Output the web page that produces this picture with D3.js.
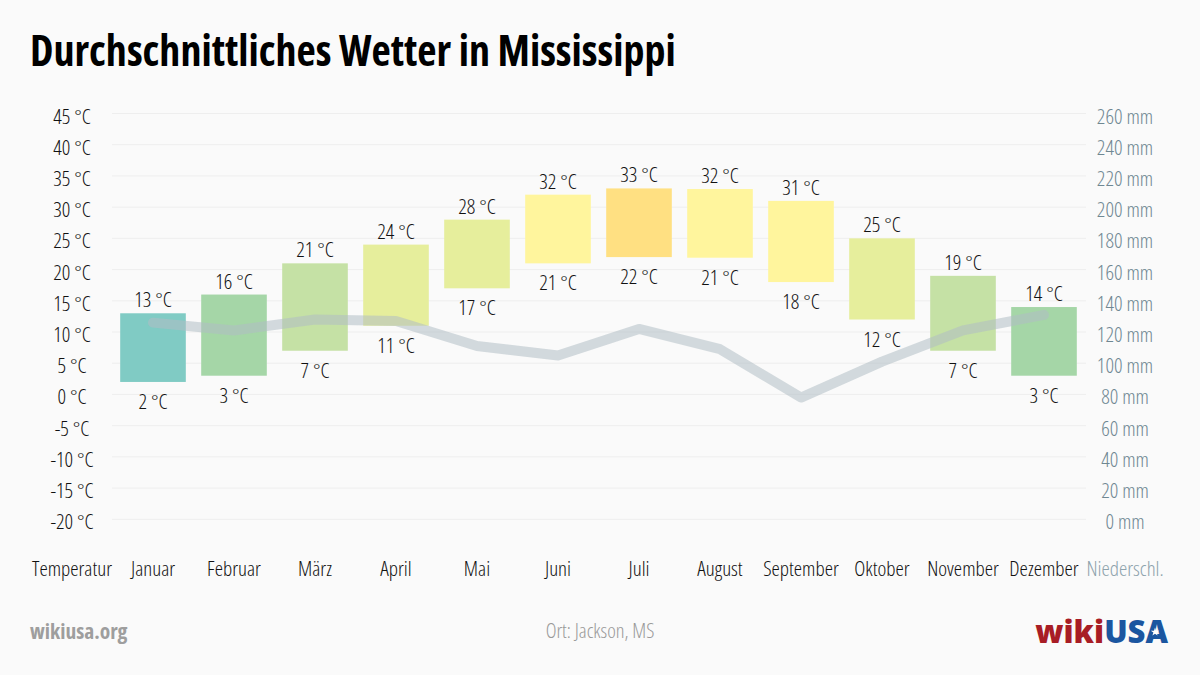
<!DOCTYPE html>
<html><head><meta charset="utf-8">
<script src="https://cdn.jsdelivr.net/npm/d3@7"></script>
<style>
html,body{margin:0;padding:0;background:#fafafa;}
svg text{font-family:"Open Sans","Noto Sans",sans-serif;font-stretch:75%;}
</style></head>
<body>
<svg id="c" width="1200" height="675"></svg>
<script>
const months = ["Januar","Februar","März","April","Mai","Juni","Juli","August","September","Oktober","November","Dezember"];
const highs = [13,16,21,24,28,32,33,32.9,31,25,19,14];
const lows  = [2,3,7,11,17,21,22,21.9,18,12,7,3];
const highLabels = [13,16,21,24,28,32,33,32,31,25,19,14];
const lowLabels  = [2,3,7,11,17,21,22,21,18,12,7,3];
const precip = [126,121,128,127,111,105,122,109,78,101,121,131];
const barColors = ["#80cbc4","#a5d6a7","#c5e1a5","#e6ee9c","#e6ee9c","#fff59d","#ffe082","#fff59d","#fff59d","#e6ee9c","#c5e1a5","#a5d6a7"];
const tempTicks = [45,40,35,30,25,20,15,10,5,0,-5,-10,-15,-20];
const precipTicks = [260,240,220,200,180,160,140,120,100,80,60,40,20,0];

const svg = d3.select("#c");
svg.append("rect").attr("width",1200).attr("height",675).attr("fill","#fafafa");

const slots = ["Temperatur", ...months, "Niederschl."];
const x = d3.scaleBand().domain(slots).range([31.5,1165.5]).paddingInner(0.19).paddingOuter(0.095);
const xc = d => x(d) + x.bandwidth()/2;
const y = d3.scaleLinear().domain([-20,45]).range([519.3,113.5]);
const yp = d3.scaleLinear().domain([0,260]).range([519.3,113.5]);
const FS = 21;

// title
svg.append("text").attr("x",30).attr("y",66).text("Durchschnittliches Wetter in Mississippi")
  .attr("font-size",42).attr("font-weight",700).attr("fill","#000");

// gridlines
svg.append("g").selectAll("line").data(tempTicks).join("line")
  .attr("x1",112).attr("x2",1086).attr("y1",d=>y(d)).attr("y2",d=>y(d))
  .attr("stroke","#eeeeee").attr("stroke-width",1);

// left axis labels
svg.append("g").selectAll("text").data(tempTicks).join("text")
  .attr("x",xc("Temperatur")).attr("y",d=>y(d)+10).attr("text-anchor","middle")
  .attr("font-size",FS).attr("font-weight",300).attr("fill","#111").text(d=>d+" °C");
// right axis labels
svg.append("g").selectAll("text").data(precipTicks).join("text")
  .attr("x",xc("Niederschl.")).attr("y",d=>yp(d)+10).attr("text-anchor","middle")
  .attr("font-size",FS).attr("font-weight",300).attr("fill","#6f8792").text(d=>d+" mm");

// bars
svg.append("g").selectAll("rect").data(months).join("rect")
  .attr("x",d=>x(d)).attr("width",x.bandwidth())
  .attr("y",(d,i)=>y(highs[i])).attr("height",(d,i)=>y(lows[i])-y(highs[i]))
  .attr("fill",(d,i)=>barColors[i]);

// bar labels
svg.append("g").selectAll("text").data(months).join("text")
  .attr("x",d=>xc(d)).attr("y",(d,i)=>y(highs[i])-6).attr("text-anchor","middle")
  .attr("font-size",FS).attr("font-weight",300).attr("fill","#111").text((d,i)=>highLabels[i]+" °C");
svg.append("g").selectAll("text").data(months).join("text")
  .attr("x",d=>xc(d)).attr("y",(d,i)=>y(lows[i])+27).attr("text-anchor","middle")
  .attr("font-size",FS).attr("font-weight",300).attr("fill","#111").text((d,i)=>lowLabels[i]+" °C");

// precipitation line
const line = d3.line().x((d,i)=>xc(months[i])).y(d=>yp(d));
svg.append("path").datum(precip).attr("d",line).attr("fill","none")
  .attr("stroke","#b0bec5").attr("stroke-opacity",0.55).attr("stroke-width",10)
  .attr("stroke-linecap","round").attr("stroke-linejoin","round");

// x labels
svg.append("g").selectAll("text").data(slots).join("text")
  .attr("x",d=>xc(d)).attr("y",576).attr("text-anchor","middle")
  .attr("font-size",FS).attr("font-weight",300).attr("fill",d=>d==="Niederschl."?"#8da2ac":"#111").text(d=>d);

// footer
svg.append("text").attr("x",30).attr("y",639).text("wikiusa.org")
  .attr("font-size",21.5).attr("font-weight",700).attr("fill","#9e9e9e");
svg.append("text").attr("x",600).attr("y",638).attr("text-anchor","middle").text("Ort: Jackson, MS")
  .attr("font-size",20.5).attr("font-weight",300).attr("fill","#999999");
const logo = svg.append("text").attr("x",1168).attr("y",643).attr("text-anchor","end")
  .attr("font-size",31).attr("font-weight",800).style("font-stretch","100%");
logo.append("tspan").attr("fill","#a81d25").text("wiki");
logo.append("tspan").attr("fill","#1b56a0").text("USA");
// star inside the A
const star = d3.symbol().type(d3.symbolStar).size(22);
svg.append("path").attr("d",star()).attr("transform","translate(1155,632)").attr("fill","#ffffff");
</script>
</body></html>
